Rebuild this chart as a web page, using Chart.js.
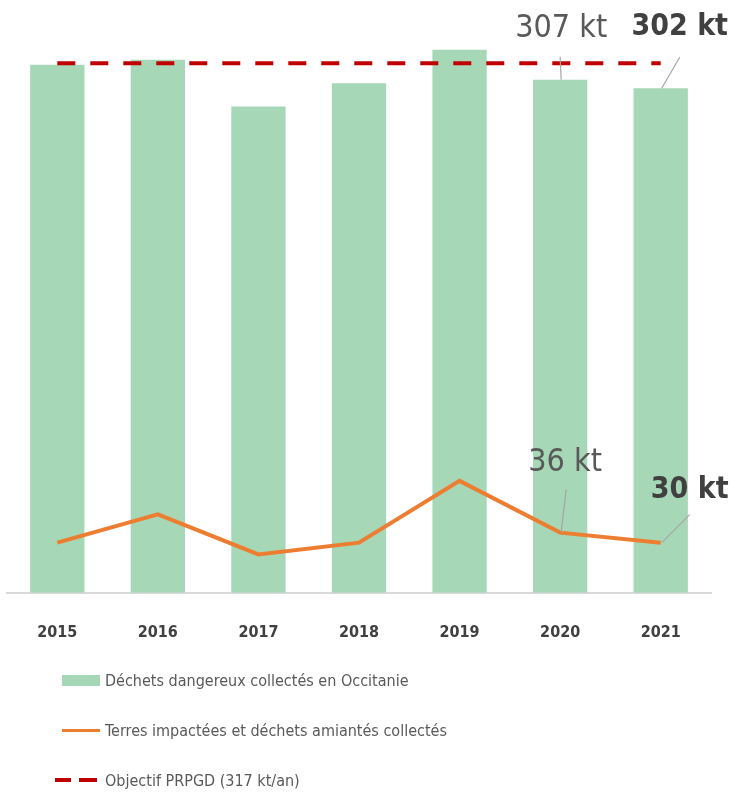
<!DOCTYPE html>
<html>
<head>
<meta charset="utf-8">
<script src="https://cdn.jsdelivr.net/npm/chart.js@4.4.1/dist/chart.umd.min.js"></script>
<style>
  body { margin: 0; background: #fff; font-family: "DejaVu Sans Condensed", "DejaVu Sans", sans-serif; }
  #wrap { position: relative; width: 733px; height: 795px; }
  #legend { position: absolute; left: 62px; top: 655px; color: #595959; font-size: 16px; }
  .item { display: flex; align-items: center; height: 50px; }
  .sw { width: 43px; display: flex; align-items: center; justify-content: flex-start; }
</style>
</head>
<body>
<div id="wrap">
  <canvas id="chart" width="733" height="676"></canvas>
  <div id="legend"></div>
</div>
<script>
const years = ['2015', '2016', '2017', '2018', '2019', '2020', '2021'];
const dechets = [316, 319, 291, 305, 325, 307, 302];
const terres = [30, 47, 23, 30, 67, 36, 30];
const objectif = [317, 317, 317, 317, 317, 317, 317];

const labelBars = 'Déchets dangereux collectés en Occitanie';
const labelLine = 'Terres impactées et déchets amiantés collectés';
const labelObj = 'Objectif PRPGD (317 kt/an)';

const green = 'rgb(166, 215, 183)';
const orange = '#ed7d31';
const red = '#c00000';
const fontFam = '"DejaVu Sans Condensed", "DejaVu Sans", sans-serif';

// labels on the last two years, offsets from the point
const callouts = [
  { ds: 0, idx: 5, text: '307 kt', bold: false, dx: 1, dy: -51, lx: 0, ly: -23, size: 32 },
  { ds: 0, idx: 6, text: '302 kt', bold: true, dx: 19, dy: -61, lx: 19, ly: -31, size: 30 },
  { ds: 1, idx: 5, text: '36 kt', bold: false, dx: 5, dy: -70, lx: 6, ly: -43, size: 32 },
  { ds: 1, idx: 6, text: '30 kt', bold: true, dx: 29, dy: -52, lx: 29, ly: -28, size: 30 }
];

const calloutPlugin = {
  id: 'callouts',
  afterDatasetsDraw(chart) {
    const ctx = chart.ctx;
    ctx.save();
    callouts.forEach(function (c) {
      const el = chart.getDatasetMeta(c.ds).data[c.idx];
      const px = el.x, py = el.y;
      ctx.strokeStyle = '#a6a6a6';
      ctx.lineWidth = 1.2;
      ctx.beginPath();
      ctx.moveTo(px + c.lx, py + c.ly);
      ctx.lineTo(px + 1, py);
      ctx.stroke();
      ctx.font = (c.bold ? 'bold ' : '') + c.size + 'px ' + fontFam;
      ctx.fillStyle = c.bold ? '#404040' : '#595959';
      ctx.textAlign = 'center';
      ctx.textBaseline = 'middle';
      ctx.fillText(c.text, px + c.dx, py + c.dy);
    });
    ctx.restore();
  }
};

const chart = new Chart(document.getElementById('chart'), {
  type: 'bar',
  data: {
    labels: years,
    datasets: [
      {
        type: 'bar',
        label: labelBars,
        data: dechets,
        backgroundColor: green,
        barPercentage: 0.54,
        categoryPercentage: 1,
        order: 3
      },
      {
        type: 'line',
        label: labelLine,
        data: terres,
        borderColor: orange,
        borderWidth: 4,
        pointRadius: 0,
        tension: 0,
        order: 2
      },
      {
        type: 'line',
        label: labelObj,
        data: objectif,
        borderColor: red,
        borderWidth: 4,
        borderDash: [18, 15],
        pointRadius: 0,
        order: 1
      }
    ]
  },
  options: {
    responsive: false,
    animation: false,
    layout: { padding: { left: 7, right: 22, top: 8, bottom: 12 } },
    plugins: {
      legend: { display: false },
      tooltip: { enabled: false }
    },
    scales: {
      x: {
        grid: { display: false },
        border: { display: true, color: '#d9d9d9', width: 2 },
        ticks: {
          padding: 22,
          color: '#404040',
          font: { family: fontFam, size: 16, weight: 'bold' }
        }
      },
      y: {
        display: false,
        min: 0,
        max: 350
      }
    }
  },
  plugins: [calloutPlugin]
});

// legend as html list
const legend = document.getElementById('legend');
const items = [
  { text: labelBars, sw: '<div style="width:38px;height:11px;background:' + green + '"></div>' },
  { text: labelLine, sw: '<div style="width:38px;height:3px;background:' + orange + '"></div>' },
  { text: labelObj, sw: '<div style="display:flex;gap:8px;margin-left:-7px"><div style="width:16px;height:4px;background:' + red + '"></div><div style="width:18px;height:4px;background:' + red + '"></div></div>' }
];
items.forEach(function (it) {
  const row = document.createElement('div');
  row.className = 'item';
  row.innerHTML = '<div class="sw">' + it.sw + '</div><span>' + it.text + '</span>';
  legend.appendChild(row);
});
</script>
</body>
</html>
